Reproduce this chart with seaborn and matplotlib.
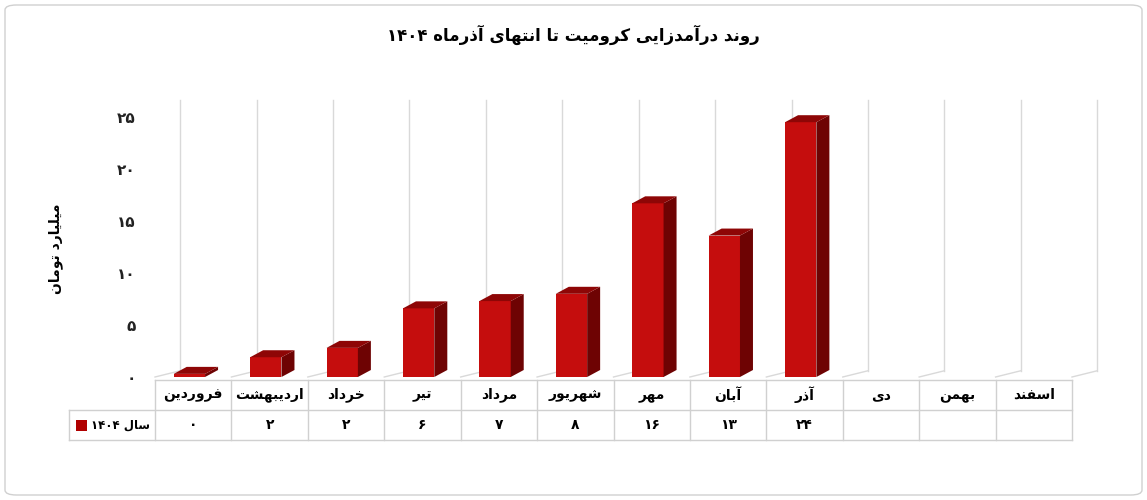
import re
import matplotlib
matplotlib.use("Agg")
import matplotlib.pyplot as plt
import seaborn as sns
import pandas as pd
from matplotlib.patches import Polygon, Rectangle, FancyBboxPatch
from matplotlib.transforms import blended_transform_factory

months = ["فروردین", "اردیبهشت", "خرداد", "تیر", "مرداد", "شهریور", "مهر", "آبان", "آذر", "دی", "بهمن", "اسفند"]
bar_values = [0.3, 1.9, 2.8, 6.6, 7.3, 8.0, 16.7, 13.6, 24.5, None, None, None]
table_labels = ["۰", "۲", "۲", "۶", "۷", "۸", "۱۶", "۱۳", "۲۴", "", "", ""]
yticks = [0, 5, 10, 15, 20, 25]
ytick_labels = ["۰", "۵", "۱۰", "۱۵", "۲۰", "۲۵"]
title = "روند درآمدزایی کرومیت تا انتهای آذرماه ۱۴۰۴"
ylabel = "میلیارد تومان"
series_name = "سال ۱۴۰۴"

# minimal Persian shaper
F = {
 'ا': (0xFE8D, 0xFE8E, None, None), 'آ': (0xFE81, 0xFE82, None, None),
 'ب': (0xFE8F, 0xFE90, 0xFE91, 0xFE92), 'ت': (0xFE95, 0xFE96, 0xFE97, 0xFE98),
 'خ': (0xFEA5, 0xFEA6, 0xFEA7, 0xFEA8), 'د': (0xFEA9, 0xFEAA, None, None),
 'ذ': (0xFEAB, 0xFEAC, None, None), 'ر': (0xFEAD, 0xFEAE, None, None),
 'ز': (0xFEAF, 0xFEB0, None, None), 'س': (0xFEB1, 0xFEB2, 0xFEB3, 0xFEB4),
 'ش': (0xFEB5, 0xFEB6, 0xFEB7, 0xFEB8), 'ف': (0xFED1, 0xFED2, 0xFED3, 0xFED4),
 'ک': (0xFB8E, 0xFB8F, 0xFB90, 0xFB91), 'ل': (0xFEDD, 0xFEDE, 0xFEDF, 0xFEE0),
 'م': (0xFEE1, 0xFEE2, 0xFEE3, 0xFEE4), 'ن': (0xFEE5, 0xFEE6, 0xFEE7, 0xFEE8),
 'ه': (0xFEE9, 0xFEEA, 0xFEEB, 0xFEEC), 'و': (0xFEED, 0xFEEE, None, None),
 'ی': (0xFBFC, 0xFBFD, 0xFBFE, 0xFBFF),
}

def shape(s):
    out = []
    for i, c in enumerate(s):
        if c not in F:
            out.append(c); continue
        p = s[i-1] if i > 0 else ''
        n = s[i+1] if i + 1 < len(s) else ''
        jp = p in F and F[p][2] is not None
        jn = F[c][2] is not None and n in F
        f = F[c]
        if jp and jn: g = f[3]
        elif jp: g = f[1]
        elif jn: g = f[2]
        else: g = f[0]
        out.append(chr(g))
    r = ''.join(out)[::-1]
    return re.sub(r'[۰-۹0-9]+', lambda m: m.group(0)[::-1], r)

plt.rcParams['font.family'] = ['DejaVu Sans']
W, H = 1147, 500
fig = plt.figure(figsize=(W/100, H/100), dpi=100)
fig.patches.append(FancyBboxPatch((5/W, 5/H), 1-10/W, 1-10/H, boxstyle="round,pad=0,rounding_size=0.01",
                                  transform=fig.transFigure, fc='white', ec='#d0d0d0', lw=1, zorder=-10))
x0, x1 = 155, 1072
yb, yt = 377, 100
ax = fig.add_axes([x0/W, 1-yb/H, (x1-x0)/W, (yb-yt)/H])
ax.set_zorder(5)
ymax = 25*(yb-yt)/(yb-117)
df = pd.DataFrame({"m": months, "v": [v if v is not None else 0 for v in bar_values]})
sns.barplot(data=df, x="m", y="v", ax=ax, color="#c50d0d", width=0.41, saturation=1, zorder=3)
ax.set_ylim(0, ymax)
ax.set_xlim(-0.5, 11.5)
for s in ax.spines.values(): s.set_visible(False)
ax.set_xticks([]); ax.set_xlabel(""); ax.set_ylabel("")
ax.set_yticks(yticks)
ax.set_yticklabels(ytick_labels, fontsize=11, fontweight='bold', color='#222')
ax.tick_params(axis='y', length=0, pad=14)
ax.patch.set_alpha(0)

dx = 13/((x1-x0)/12)
dy = 7/((yb-yt)/ymax)
off = 0.33
for b, v in zip(list(ax.patches), bar_values):
    if v is None:
        b.set_visible(False); continue
    xl = b.get_x() - 0.05; w = b.get_width(); h = b.get_height()
    b.set_x(xl)
    xr = xl + w
    ax.add_patch(Polygon([(xr, 0), (xr+dx, dy), (xr+dx, h+dy), (xr, h)], closed=True, fc="#6e0303", ec='none', zorder=3))
    ax.add_patch(Polygon([(xl, h), (xl+dx, h+dy), (xr+dx, h+dy), (xr, h)], closed=True, fc="#8e0606", ec='none', zorder=3))

gc = '#d9d9d9'
for k in range(13):
    xb = k - 0.5
    ax.plot([xb+off, xb+off], [0.6, ymax], color=gc, lw=1, zorder=1, clip_on=False)
    ax.plot([xb, xb+off], [0, 0.6], color=gc, lw=1, zorder=1, clip_on=False)

ax.text(-0.5 - 1.3, 12.3, shape(ylabel), rotation=90, ha='center', va='center', fontsize=10, fontweight='bold')
fig.text(0.5, 1-35/H, shape(title), ha='center', va='center', fontsize=12, fontweight='bold')

tr = blended_transform_factory(ax.transData, fig.transFigure)
r0, r1, r2 = 1-380/H, 1-410/H, 1-440/H
lc = '#d0d0d0'
for k in range(13):
    ax.plot([k-0.5, k-0.5], [r0, r2], color=lc, lw=1, transform=tr, clip_on=False)
ax.plot([-0.5, 11.5], [r0, r0], color=lc, lw=1, transform=tr, clip_on=False)
ax.plot([-1.62, 11.5], [r1, r1], color=lc, lw=1, transform=tr, clip_on=False)
ax.plot([-1.62, 11.5], [r2, r2], color=lc, lw=1, transform=tr, clip_on=False)
ax.plot([-1.62, -1.62], [r1, r2], color=lc, lw=1, transform=tr, clip_on=False)
for i, (m, t) in enumerate(zip(months, table_labels)):
    ax.text(i, (r0+r1)/2, shape(m), ha='center', va='center', fontsize=10, fontweight='bold', transform=tr)
    ax.text(i, (r1+r2)/2, t, ha='center', va='center', fontsize=10, fontweight='bold', transform=tr)
fig.text(150/W, (r1+r2)/2, shape(series_name), ha='right', va='center', fontsize=8.5, fontweight='bold')
fig.patches.append(Rectangle((76/W, 1-431/H), 11/W, 11/H, transform=fig.transFigure, fc="#b00000", ec='none'))

fig.savefig("out.png", dpi=100)
